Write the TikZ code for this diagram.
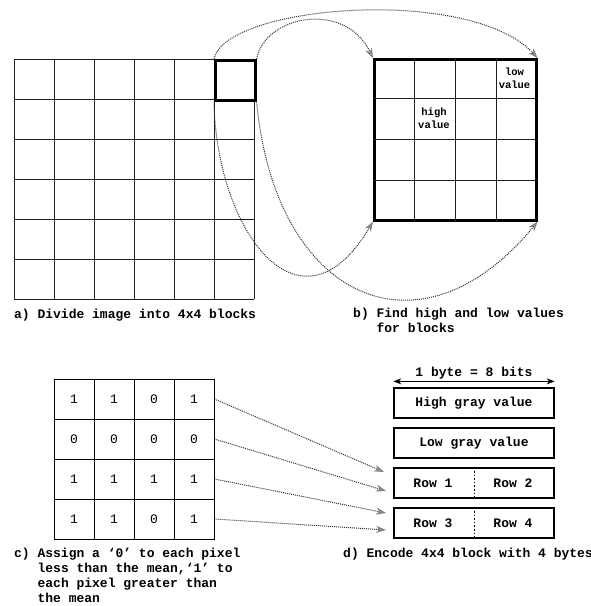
\documentclass[tikz,border=0pt]{standalone}
\usepackage{fontspec}
\setmonofont{Liberation Mono}
\usetikzlibrary{arrows.meta,calc}
\begin{document}
\begin{tikzpicture}[x=1pt,y=-1pt,
  gridline/.style={line width=0.9pt, black!88},
  thickbox/.style={draw, line width=2.6pt, inner sep=0pt},
  cellnode/.style={draw, line width=0.9pt, minimum size=40pt, inner sep=0pt, font=\ttfamily\fontsize{13}{15}\selectfont},
  dotcurve/.style={line width=1pt, black!80, dash pattern=on 1pt off 1pt,
     -{Stealth[length=10pt,width=7pt,color=black!50,fill=black!40]}},
  captext/.style={font=\ttfamily\bfseries\fontsize{13}{15}\selectfont, align=left, inner sep=0pt, anchor=base west},
  bytebox/.style={draw, line width=1.3pt, minimum width=160pt, minimum height=30pt, inner sep=0pt, font=\ttfamily\bfseries\fontsize{13}{15}\selectfont},
  boxtext/.style={inner sep=0pt, font=\ttfamily\bfseries\fontsize{13}{15}\selectfont},
  smalltext/.style={inner sep=0pt, align=center, font=\ttfamily\bfseries\fontsize{10.5}{13}\selectfont},
  divider/.style={line width=1pt, dash pattern=on 1.6pt off 2pt},
]
\useasboundingbox (0,0) rectangle (591,606);
\fill[white] (0,0) rectangle (591,606);

% a) image grid
\foreach \k in {0,...,6} {
  \draw[gridline] (14+40*\k,59) -- (14+40*\k,299);
  \draw[gridline] (14,59+40*\k) -- (254,59+40*\k);
}
\node[thickbox, minimum size=40pt, anchor=north west] (blk) at (214,59) {};

% b) block
\node[thickbox, minimum width=162pt, minimum height=161pt, anchor=north west] (bigB) at (373,58) {};
\foreach \k in {1,2,3} {
  \draw[gridline] ($(bigB.north west)!\k/4!(bigB.north east)$) -- ($(bigB.south west)!\k/4!(bigB.south east)$);
  \draw[gridline] ($(bigB.north west)!\k/4!(bigB.south west)$) -- ($(bigB.north east)!\k/4!(bigB.south east)$);
}
\node[smalltext] (lowv) at (514.5,78.5) {low\\value};
\node[smalltext] (highv) at (434,118.5) {high\\value};

% curves
\draw[dotcurve] (blk.north west) .. controls (225,5) and (470,-15) .. (bigB.north east);
\draw[dotcurve] (blk.north east) .. controls (265,15) and (345,0) .. (bigB.north west);
\draw[dotcurve] (blk.south west) .. controls (216,230) and (300,345) .. (bigB.south west);
\draw[dotcurve] (blk.south east) .. controls (275,300) and (420,365) .. (bigB.south east);

% c) bit block
\foreach \row [count=\i] in {{1,1,0,1},{0,0,0,0},{1,1,1,1},{1,1,0,1}} {
  \foreach \v [count=\j] in \row {
    \node[cellnode] (c-\i-\j) at (34+40*\j, 359+40*\i) {\v};
  }
}

% d) byte boxes
\node[bytebox] (hb) at (474,403) {High gray value};
\node[bytebox] (lgb) at (474,443) {Low gray value};
\node[bytebox] (r12) at (474,483) {};
\node[bytebox] (r34) at (474,523) {};
\draw[divider] (r12.north) -- (r12.south);
\draw[divider] (r34.north) -- (r34.south);
\node[boxtext] (row1) at (433,483) {Row 1};
\node[boxtext] (row2) at (513,483) {Row 2};
\node[boxtext] (row3) at (433,523) {Row 3};
\node[boxtext] (row4) at (513,523) {Row 4};

\draw[line width=1pt, {Stealth[length=8pt,width=6pt]}-{Stealth[length=8pt,width=6pt]}]
  ([yshift=6pt]hb.north west) -- ([yshift=6pt]hb.north east);
\node[boxtext, anchor=base] (bytelbl) at (474,376) {1 byte = 8 bits};

% row connectors
\coordinate (e1) at (384,472);
\coordinate (e2) at (386,491);
\coordinate (e3) at (386,513);
\coordinate (e4) at (386,530);
\draw[dotcurve] (c-1-4.east) -- (e1);
\draw[dotcurve] (c-2-4.east) -- (e2);
\draw[dotcurve] (c-3-4.east) -- (e3);
\draw[dotcurve] (c-4-4.east) -- (e4);

% captions (base anchor = baseline of the last line)
\node[captext] (capa) at (14,318) {a) Divide image into 4x4 blocks};
\node[captext] (capb) at (353,332) {b) Find high and low values\\\hspace*{23.4pt}for blocks};
\node[captext] (capc) at (14,602) {c) Assign a ‘0’ to each pixel\\\hspace*{23.4pt}less than the mean,‘1’ to\\\hspace*{23.4pt}each pixel greater than\\\hspace*{23.4pt}the mean};
\node[captext] (capd) at (343,557) {d) Encode 4x4 block with 4 bytes};
\end{tikzpicture}
\end{document}
